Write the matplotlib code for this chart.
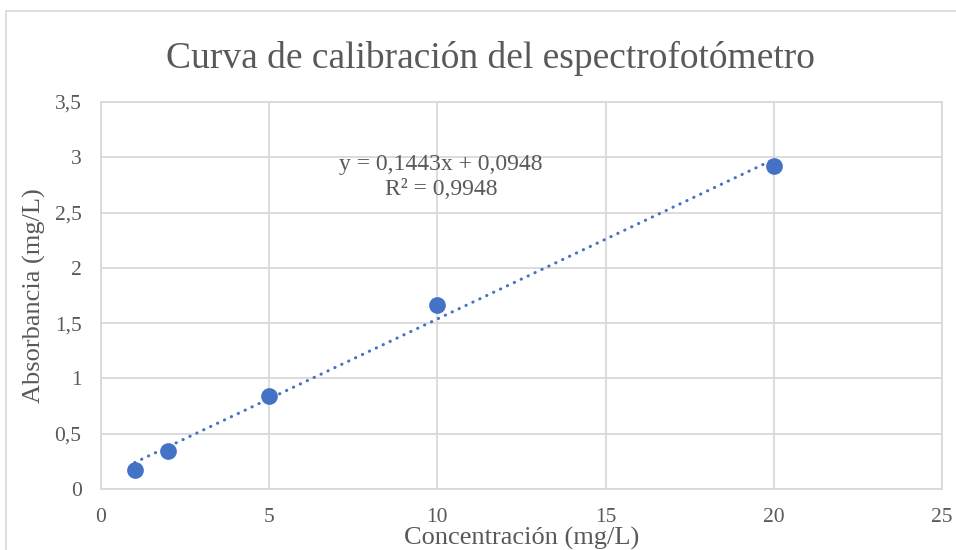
import matplotlib

matplotlib.use("Agg")
import matplotlib.pyplot as plt
from matplotlib.patches import Rectangle
from matplotlib.ticker import FuncFormatter, MultipleLocator

# data
concentration = [1, 2, 5, 10, 20]
absorbance = [0.17, 0.345, 0.845, 1.66, 2.92]
slope = 0.1443
intercept = 0.0948
r_squared = 0.9948

TEXT = "#595959"
GRID = "#D9D9D9"
BLUE = "#4472C4"

plt.rcParams["font.family"] = ["Liberation Serif", "DejaVu Serif"]


def comma_fmt(value, _pos):
    text = f"{value:g}"
    return text.replace(".", ",")


fig = plt.figure(figsize=(9.56, 5.5), dpi=100)
fig.patches.append(
    Rectangle((6 / 956, -0.01), 1.0, (550 - 11) / 550 + 0.01,
              transform=fig.transFigure, fill=False, edgecolor=GRID, linewidth=1.2)
)
ax = fig.add_axes((101 / 956, 61 / 550, 841 / 956, 387 / 550))

# trendline
xs = [min(concentration), max(concentration)]
ys = [slope * x + intercept for x in xs]
ax.plot(xs, ys, color=BLUE, linewidth=2.2, linestyle=(0, (0.1, 2.4)),
        dash_capstyle="round", zorder=3)
ax.scatter(concentration, absorbance, s=145, color=BLUE, zorder=4, linewidths=0)

ax.set_xlim(0, 25)
ax.set_ylim(0, 3.5)
ax.xaxis.set_major_locator(MultipleLocator(5))
ax.yaxis.set_major_locator(MultipleLocator(0.5))
ax.xaxis.set_major_formatter(FuncFormatter(comma_fmt))
ax.yaxis.set_major_formatter(FuncFormatter(comma_fmt))
ax.grid(True, color=GRID, linewidth=1.3)
ax.set_axisbelow(True)
for spine in ax.spines.values():
    spine.set_color(GRID)
    spine.set_linewidth(1.3)
ax.tick_params(length=0, labelsize=15.5, colors=TEXT)
ax.tick_params(axis="x", pad=14)
ax.tick_params(axis="y", pad=14)

fig.text(522 / 956, 1 - 538 / 550, "Concentración (mg/L)", ha="center", va="center",
         fontsize=19, color=TEXT)
fig.text(34 / 956, 1 - 296 / 550, "Absorbancia (mg/L)", ha="center", va="center",
         rotation=90, fontsize=19, color=TEXT)
fig.text(490 / 956, 1 - 58 / 550, "Curva de calibración del espectrofotómetro",
         ha="center", va="center", fontsize=27, color=TEXT)

fig.text(441 / 956, 1 - 177 / 550,
         f"y = {comma_fmt(slope, 0)}x + {comma_fmt(intercept, 0)}\nR² = {comma_fmt(r_squared, 0)}",
         ha="center", va="center", fontsize=17, color=TEXT, linespacing=1.3)

fig.savefig("out.png", dpi=100)
